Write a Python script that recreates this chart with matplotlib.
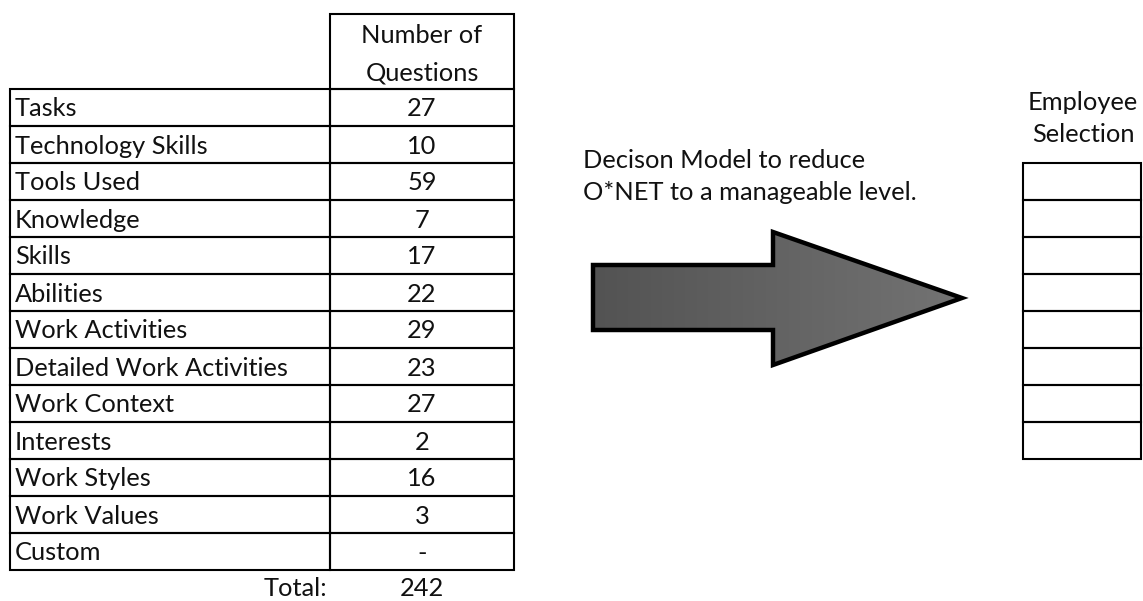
import matplotlib
matplotlib.use("Agg")
import matplotlib.pyplot as plt
import numpy as np
from matplotlib.patches import Polygon, Rectangle
from matplotlib.colors import LinearSegmentedColormap

plt.rcParams['font.family'] = ['Lato', 'DejaVu Sans']

categories = ["Tasks", "Technology Skills", "Tools Used", "Knowledge", "Skills",
              "Abilities", "Work Activities", "Detailed Work Activities",
              "Work Context", "Interests", "Work Styles", "Work Values", "Custom"]
values = ["27", "10", "59", "7", "17", "22", "29", "23", "27", "2", "16", "3", "-"]
total_label = "Total:"
total_value = "242"
header_lines = ["Number of", "Questions"]
arrow_lines = ["Decison Model to reduce", "O*NET to a manageable level."]
right_header_lines = ["Employee", "Selection"]
right_rows = 8

W, H = 1143, 601
fig = plt.figure(figsize=(W / 100, H / 100), dpi=100)
ax = fig.add_axes([0, 0, 1, 1])
ax.set_xlim(0, W)
ax.set_ylim(H, 0)
ax.axis('off')

FS = 18.3
TC = '#111111'
LW = 1.5


def txt(x, y, s, ha='left'):
    ax.text(x, y, s, ha=ha, va='baseline', fontsize=FS, color=TC)


# left table
x0, x1, x2 = 10, 330, 514
top_h, y0, rh = 14, 89, 37
xc = (x1 + x2) / 2
ax.add_patch(Rectangle((x1, top_h), x2 - x1, y0 - top_h, fill=False, lw=LW, ec='black'))
for s, yb_ in zip(header_lines, [43, 80]):
    txt(xc, yb_, s, ha='center')
for i, (c, v) in enumerate(zip(categories, values)):
    yt = y0 + i * rh
    ax.add_patch(Rectangle((x0, yt), x1 - x0, rh, fill=False, lw=LW, ec='black'))
    ax.add_patch(Rectangle((x1, yt), x2 - x1, rh, fill=False, lw=LW, ec='black'))
    txt(x0 + 5, yt + 27.5, c)
    txt(xc, yt + 27.5, v, ha='center')
yb = y0 + len(categories) * rh
txt(x1 - 3, yb + 26, total_label, ha='right')
txt(xc, yb + 26, total_value, ha='center')

# arrow text
for s, yb_ in zip(arrow_lines, [168, 200]):
    txt(583, yb_, s)

# arrow
pts = [(593, 265), (773, 265), (773, 232), (962, 298), (773, 365), (773, 330), (593, 330)]
poly = Polygon(pts, closed=True, fc='none', ec='black', lw=3.2, joinstyle='miter', zorder=3)
ax.add_patch(poly)
grad = np.linspace(0.0, 1.0, 256).reshape(1, -1)
cmap = LinearSegmentedColormap.from_list('g', ['#535353', '#737373'])
im = ax.imshow(grad, cmap=cmap, extent=(593, 962, 365, 232), aspect='auto', zorder=2)
im.set_clip_path(poly)
ax.set_xlim(0, W)
ax.set_ylim(H, 0)

# right table
rx0, rx1, ry0 = 1023, 1141, 163
for s, yb_ in zip(right_header_lines, [110, 142]):
    txt((rx0 + rx1) / 2 + 1, yb_, s, ha='center')
for i in range(right_rows):
    ax.add_patch(Rectangle((rx0, ry0 + i * rh), rx1 - rx0, rh, fill=False, lw=LW, ec='black'))

fig.savefig('out.png', dpi=100, facecolor='white')
